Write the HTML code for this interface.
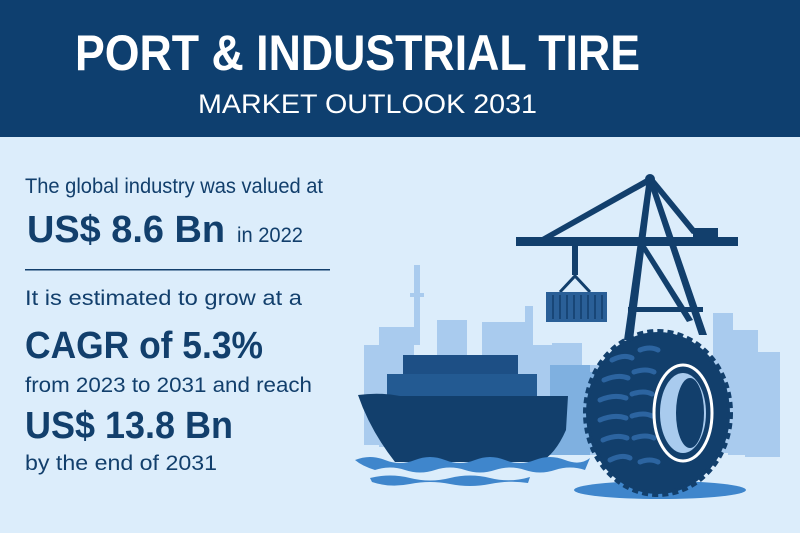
<!DOCTYPE html>
<html><head><meta charset="utf-8"><style>
html,body{margin:0;padding:0;background:#dcedfb;}
svg{display:block;}
text{font-family:"Liberation Sans",sans-serif;}
</style></head><body>
<svg width="800" height="533" viewBox="0 0 800 533">
<rect x="0" y="0" width="800" height="533" fill="#dcedfb"/>
<rect x="0" y="0" width="800" height="137" fill="#0e3f6f"/>
<text x="75" y="70" font-size="50" font-weight="bold" fill="#fff" textLength="565" lengthAdjust="spacingAndGlyphs">PORT &amp; INDUSTRIAL TIRE</text>
<text x="198" y="113" font-size="27" fill="#fff" textLength="339" lengthAdjust="spacingAndGlyphs">MARKET OUTLOOK 2031</text>

<g fill="#123f6c">
<text x="25" y="193" font-size="21" textLength="298" lengthAdjust="spacingAndGlyphs">The global industry was valued at</text>
<text x="27" y="242" font-size="38" font-weight="bold" textLength="198" lengthAdjust="spacingAndGlyphs">US$ 8.6 Bn</text>
<text x="237" y="242" font-size="21" textLength="66" lengthAdjust="spacingAndGlyphs">in 2022</text>
<rect x="25" y="269" width="305" height="1.5" fill="#123f6c"/>
<text x="25" y="305" font-size="21" textLength="277" lengthAdjust="spacingAndGlyphs">It is estimated to grow at a</text>
<text x="25" y="358" font-size="38" font-weight="bold" textLength="238" lengthAdjust="spacingAndGlyphs">CAGR of 5.3%</text>
<text x="25" y="392" font-size="21" textLength="287" lengthAdjust="spacingAndGlyphs">from 2023 to 2031 and reach</text>
<text x="25" y="438" font-size="38" font-weight="bold" textLength="208" lengthAdjust="spacingAndGlyphs">US$ 13.8 Bn</text>
<text x="25" y="470" font-size="21" textLength="192" lengthAdjust="spacingAndGlyphs">by the end of 2031</text>
</g>

<g fill="#a9cbee">
<rect x="414" y="265" width="6" height="80"/>
<rect x="410" y="293" width="14" height="4"/>
<rect x="379" y="327" width="35" height="120"/>
<rect x="364" y="345" width="20" height="100"/>
<rect x="437" y="320" width="30" height="130"/>
<rect x="482" y="322" width="45" height="130"/>
<rect x="525" y="306" width="8" height="140"/>
<rect x="530" y="345" width="30" height="100"/>
<rect x="552" y="343" width="30" height="110"/>
<rect x="580" y="365" width="30" height="90"/>
<rect x="713" y="313" width="20" height="140"/>
<rect x="728" y="330" width="30" height="125"/>
<rect x="745" y="352" width="35" height="105"/>
</g>
<g fill="#7fb0e0">
<rect x="550" y="365" width="40" height="90"/>
<rect x="582" y="372" width="35" height="80"/>
</g>

<g fill="#123f6c">
<rect x="516" y="237" width="222" height="9"/>
<circle cx="650" cy="179" r="5"/>
<polygon points="647,178 653,178 633,340 624,340"/>
<polygon points="647,178 653,178 707,335 699,335"/>
<polygon points="650,176 652,182 548,240 542,237"/>
<polygon points="648,180 652,176 698,232 692,234"/>
<polygon points="640,246 646,246 693,320 687,322"/>
<rect x="628" y="307" width="75" height="5"/>
<rect x="693" y="228" width="25" height="10"/>
<rect x="572" y="245" width="6" height="30"/>
<polyline points="560,292 575,276 590,292" fill="none" stroke="#123f6c" stroke-width="3"/>
</g>
<rect x="546" y="292" width="61" height="30" fill="#2a5f97"/>
<g stroke="#123f6c" stroke-width="1.5">
<line x1="553" y1="295" x2="553" y2="319"/><line x1="560" y1="295" x2="560" y2="319"/><line x1="567" y1="295" x2="567" y2="319"/><line x1="574" y1="295" x2="574" y2="319"/><line x1="581" y1="295" x2="581" y2="319"/><line x1="588" y1="295" x2="588" y2="319"/><line x1="595" y1="295" x2="595" y2="319"/><line x1="602" y1="295" x2="602" y2="319"/>
</g>

<g>
<rect x="403" y="355" width="115" height="22" fill="#1d4f85"/>
<rect x="387" y="374" width="150" height="26" fill="#235a92"/>
<rect x="395" y="397" width="150" height="20" fill="#2a64a0"/>
<path d="M358,395 Q380,392 400,396 L568,396 L566,430 Q555,455 540,462 L395,462 Q370,430 358,395 Z" fill="#123f6c"/>
</g>
<path d="M355,460 Q370,454 385,460 T415,460 T445,460 T475,460 T505,460 T535,460 T565,460 T590,458 L585,470 Q570,465 555,470 T525,470 T495,470 T465,470 T435,470 T405,470 T375,470 Q362,466 355,460 Z" fill="#3f86cc"/>
<path d="M370,478 Q390,473 410,478 T450,478 T490,478 T530,477 L528,483 Q510,480 490,484 T450,484 T410,484 T372,482 Z" fill="#3f86cc"/>

<ellipse cx="660" cy="490" rx="86" ry="9" fill="#3f86cc"/>
<g>
<ellipse cx="658" cy="413" rx="72" ry="81" fill="#123f6c"/>
<ellipse cx="658" cy="413" rx="72" ry="81" fill="none" stroke="#123f6c" stroke-width="6" stroke-dasharray="6 4"/>
<g fill="none" stroke="#2c64a0" stroke-width="5" stroke-linecap="round">
<path d="M612,360 q12,-6 20,-2"/><path d="M604,380 q14,-6 24,-2"/><path d="M600,400 q14,-6 26,-2"/><path d="M600,420 q14,-6 26,-2"/><path d="M603,440 q14,-6 24,-2"/><path d="M610,460 q12,-6 20,-2"/>
<path d="M640,350 q10,-4 18,0"/><path d="M634,372 q12,-4 20,0"/><path d="M632,394 q12,-4 20,0"/><path d="M632,416 q12,-4 20,0"/><path d="M634,438 q12,-4 20,0"/><path d="M640,462 q10,-4 18,0"/>
</g>
<ellipse cx="683" cy="413" rx="29" ry="48" fill="none" stroke="#ffffff" stroke-width="3"/>
<ellipse cx="683" cy="413" rx="23" ry="40" fill="#a9cbee"/>
<ellipse cx="690" cy="413" rx="14" ry="35" fill="#123f6c"/>
</g>
</svg>
</body></html>
